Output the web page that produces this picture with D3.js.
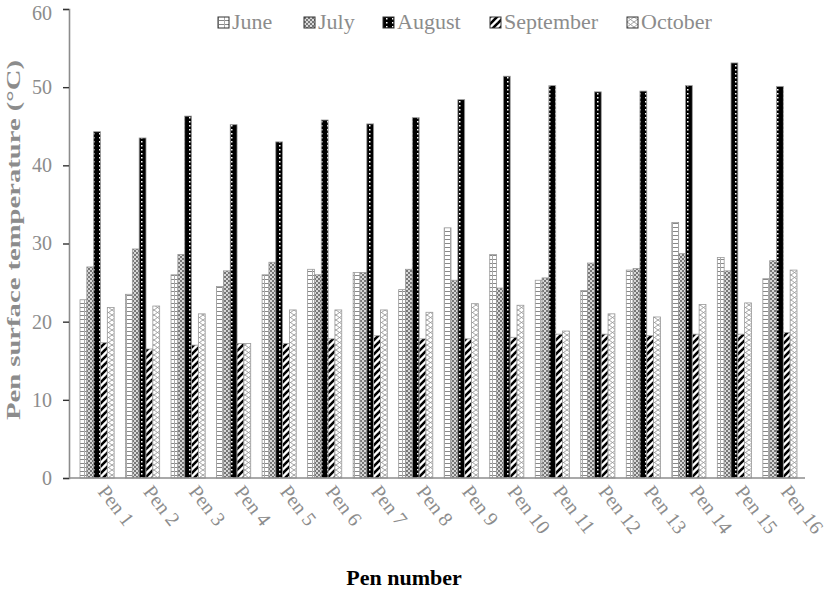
<!DOCTYPE html>
<html><head><meta charset="utf-8">
<script src="https://cdn.jsdelivr.net/npm/d3@7"></script>
<style>body{margin:0;background:#fff}svg{display:block}</style>
</head><body>
<svg id="c" width="827" height="590"></svg>
<script>
const pens = ["Pen 1","Pen 2","Pen 3","Pen 4","Pen 5","Pen 6","Pen 7","Pen 8","Pen 9","Pen 10","Pen 11","Pen 12","Pen 13","Pen 14","Pen 15","Pen 16"];
const months = ["June","July","August","September","October"];
const june      = [22.8,23.5,26.0,24.5,26.0,26.7,26.3,24.1,32.0,28.6,25.3,24.0,26.6,32.7,28.2,25.5];
const july      = [27.0,29.3,28.6,26.5,27.6,26.0,26.3,26.7,25.3,24.3,25.6,27.5,26.8,28.7,26.5,27.8];
const august    = [44.3,43.5,46.3,45.2,43.0,45.8,45.3,46.1,48.4,51.4,50.2,49.4,49.5,50.2,53.1,50.1];
const september = [17.3,16.5,17.0,17.2,17.2,17.8,18.2,17.8,17.8,18.0,18.4,18.4,18.2,18.4,18.4,18.6];
const october   = [21.8,22.0,21.0,17.2,21.5,21.5,21.5,21.2,22.3,22.1,18.8,21.0,20.6,22.2,22.4,26.6];
const yTicks = [0,10,20,30,40,50,60];

const series = [june, july, august, september, october];
const svg = d3.select("#c");
const m = {l:69, r:805, t:9, b:478};
const x = d3.scaleBand().domain(pens).range([80, 797]).paddingInner(0.25).paddingOuter(0);
const xs = d3.scaleBand().domain(months).range([0, x.bandwidth()]);
const y = d3.scaleLinear().domain([0,60]).range([m.b, m.t]);
const serif = "'Liberation Serif','Times New Roman',serif";
const gray = "#8c8c8c";

// patterns
const defs = svg.append("defs");
let p = defs.append("pattern").attr("id","pJune").attr("patternUnits","userSpaceOnUse").attr("width",6).attr("height",4);
p.append("rect").attr("width",6).attr("height",4).attr("fill","#fff");
p.append("rect").attr("y",3).attr("width",6).attr("height",1).attr("fill","#888");
p.append("rect").attr("x",0).attr("width",1).attr("height",4).attr("fill","#aaa");
p = defs.append("pattern").attr("id","pJuly").attr("patternUnits","userSpaceOnUse").attr("width",4).attr("height",4);
p.append("rect").attr("width",4).attr("height",4).attr("fill","#d8d8d8");
p.append("rect").attr("width",2).attr("height",2).attr("fill","#777");
p.append("rect").attr("x",2).attr("y",2).attr("width",2).attr("height",2).attr("fill","#777");
p = defs.append("pattern").attr("id","pAug").attr("patternUnits","userSpaceOnUse").attr("width",6).attr("height",4);
p.append("rect").attr("width",6).attr("height",4).attr("fill","#000");
p.append("rect").attr("x",3).attr("y",1).attr("width",1.5).attr("height",1.5).attr("fill","#fff");
p = defs.append("pattern").attr("id","pSep").attr("patternUnits","userSpaceOnUse").attr("width",7).attr("height",7);
p.append("rect").attr("width",7).attr("height",7).attr("fill","#fff");
p.append("path").attr("d","M-1,8 L8,-1").attr("stroke","#000").attr("stroke-width",2.6);
p.append("path").attr("d","M-2,2 L2,-2 M5,9 L9,5").attr("stroke","#000").attr("stroke-width",2.6);
p = defs.append("pattern").attr("id","pOct").attr("patternUnits","userSpaceOnUse").attr("width",7).attr("height",10);
p.append("rect").attr("width",7).attr("height",10).attr("fill","#fff");
p.append("path").attr("d","M0,0 L7,5 L0,10 M7,0 L0,5 L7,10").attr("stroke","#999").attr("stroke-width",0.9).attr("fill","none");
const fills = ["url(#pJune)","url(#pJuly)","url(#pAug)","url(#pSep)","url(#pOct)"];

// bars
months.forEach((mo, si) => {
  svg.append("g").selectAll("rect").data(series[si]).join("rect")
    .attr("x", (d,i) => x(pens[i]) + xs(mo))
    .attr("y", d => y(d))
    .attr("width", xs.bandwidth())
    .attr("height", d => y(0) - y(d))
    .attr("fill", fills[si])
    .attr("stroke", "#999").attr("stroke-width", 0.8);
});

// y axis
const ya = svg.append("g").attr("transform",`translate(${m.l},0)`)
  .call(d3.axisLeft(y).tickValues(yTicks).tickSize(6).tickPadding(11));
ya.select(".domain").attr("stroke",gray).attr("stroke-width",1.6);
ya.selectAll(".tick line").attr("stroke","#333").attr("stroke-width",1.4);
ya.selectAll("text").attr("font-family",serif).attr("font-size",20).attr("fill",gray)
  .attr("dy", d => d === 60 ? "0.5em" : "0.32em");

// x axis
const xa = svg.append("g").attr("transform",`translate(0,${m.b})`)
  .call(d3.axisBottom(x).tickSize(0).tickSizeOuter(0).tickPadding(0));
xa.select(".domain").attr("stroke",gray).attr("stroke-width",1.6).attr("d",`M${m.l},0H${m.r}`);
xa.selectAll(".tick text")
  .attr("font-family",serif).attr("font-size",20).attr("fill",gray)
  .attr("text-anchor","start").attr("dy","0")
  .attr("transform","translate(0,14) rotate(52)");

// y title
svg.append("text").attr("transform","translate(20,240) rotate(-90)")
  .attr("text-anchor","middle").attr("font-family",serif).attr("font-size",19)
  .attr("font-weight","bold").attr("fill",gray)
  .attr("textLength",360).attr("lengthAdjust","spacingAndGlyphs")
  .text("Pen surface temperature (°C)");

// x title
svg.append("text").attr("x",404).attr("y",585).attr("text-anchor","middle")
  .attr("font-family",serif).attr("font-size",22).attr("font-weight","bold").attr("fill","#000")
  .text("Pen number");

// legend
const legX = [218, 304, 383, 490, 627];
const lg = svg.append("g").selectAll("g").data(months).join("g")
  .attr("transform",(d,i)=>`translate(${legX[i]},17)`);
lg.append("rect").attr("width",11).attr("height",11).attr("fill",(d,i)=>fills[i])
  .attr("stroke","#333").attr("stroke-width",1);
lg.append("text").attr("x",14).attr("y",12).attr("font-family",serif).attr("font-size",22)
  .attr("fill",gray).text(d=>d);
</script>
</body></html>
